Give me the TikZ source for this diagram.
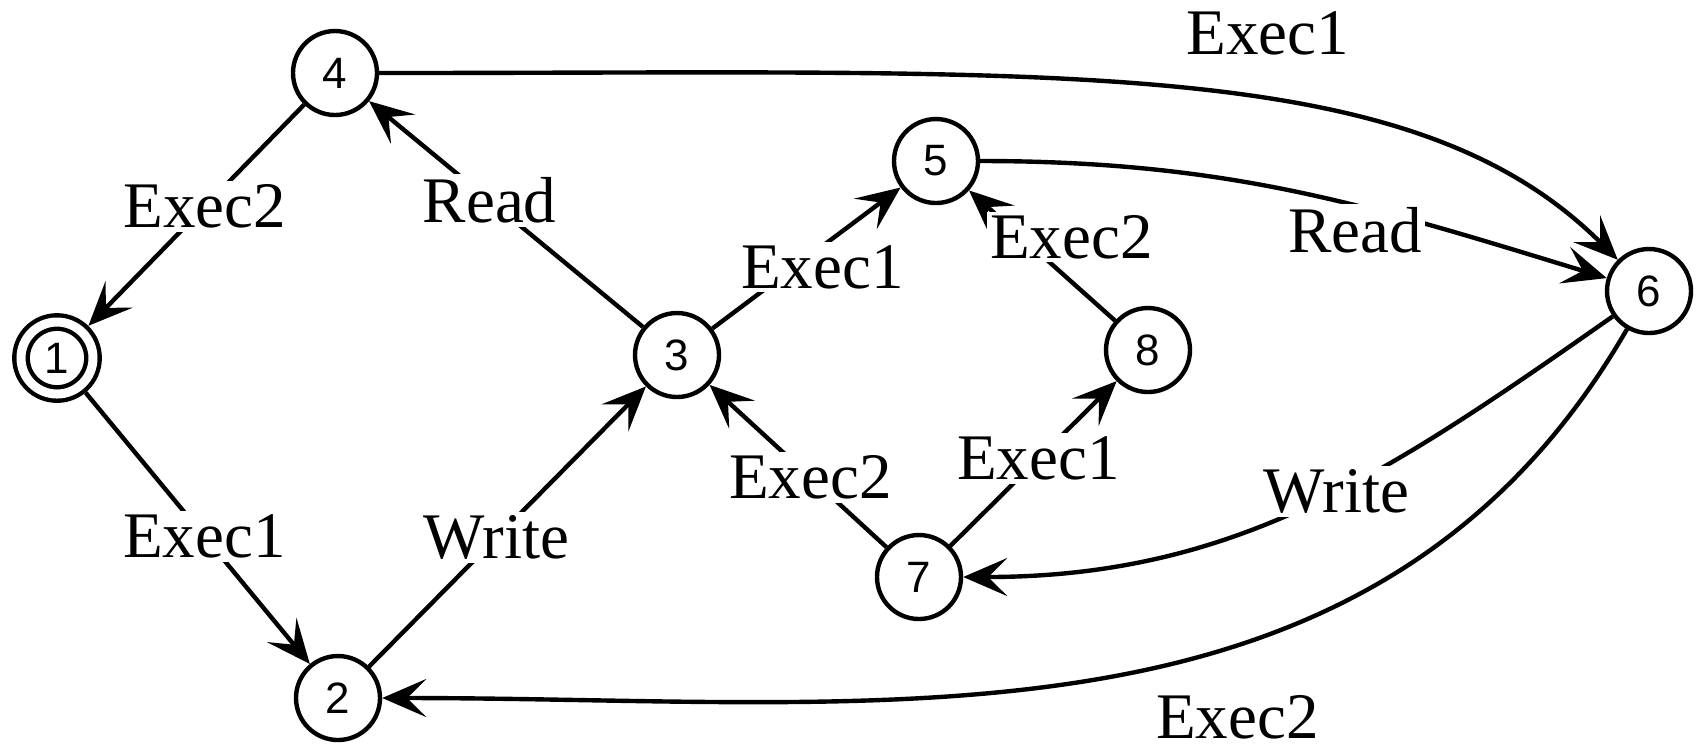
\documentclass[tikz,border=0pt]{standalone}
\usepackage{fontspec}
\setmainfont{Liberation Serif}
\setsansfont{Liberation Sans}
\usetikzlibrary{arrows.meta}

\begin{document}
\begin{tikzpicture}[
        state/.style={circle, draw=black, line width=1.25pt, fill=white, font=\sffamily\fontsize{12.5}{12.5}\selectfont, minimum size=0.84cm, inner sep=0pt},
        accept/.style={state, double, double distance=0.09cm, minimum size=0.72cm, outer sep=0.09cm},
        trans/.style={-{Stealth[length=0.44cm, width=0.38cm, inset=0.19cm]}, line width=1.25pt},
        lbl/.style={fill=white, inner sep=1pt, font=\fontsize{18.5}{20}\selectfont}
    ]
        \useasboundingbox (0,0) rectangle (17.03,-7.52);

        % States
        \node[accept] (s1) at (0.57, -3.58) {1};
        \node[state] (s2) at (3.38, -6.98) {2};
        \node[state] (s3) at (6.77, -3.55) {3};
        \node[state] (s4) at (3.35, -0.73) {4};
        \node[state] (s5) at (9.36, -1.61) {5};
        \node[state] (s6) at (16.49, -2.91) {6};
        \node[state] (s7) at (9.19, -5.77) {7};
        \node[state] (s8) at (11.48, -3.50) {8};

        % Straight transitions
        \draw[trans] (s4) -- node[lbl, pos=0.46] {Exec2} (s1);
        \draw[trans] (s1) -- node[lbl, pos=0.53] {Exec1} (s2);
        \draw[trans] (s2) -- node[lbl, pos=0.46] {Write} (s3);
        \draw[trans] (s3) -- node[lbl, pos=0.56] {Read} (s4);
        \draw[trans] (s3) -- node[lbl, pos=0.52, shift={(0.12,-0.12)}] {Exec1} (s5);
        \draw[trans] (s7) -- node[lbl, pos=0.43] {Exec2} (s3);
        \draw[trans] (s7) -- node[lbl, pos=0.53] {Exec1} (s8);
        \draw[trans] (s8) -- node[lbl, pos=0.45, shift={(0.22,0.25)}] {Exec2} (s5);

        % Curved transitions to and from 6
        \draw[trans] (s4) to[out=0, in=135, out looseness=1.4, in looseness=0.6]
            node[lbl, pos=0.58, yshift=0.67cm] {Exec1} (s6);
        \draw[trans] (s5) to[out=0, in=163]
            node[lbl, pos=0.6, yshift=-7pt] {Read} (s6);
        \draw[trans] (s6) to[out=215, in=0]
            node[lbl, pos=0.45] {Write} (s7);
        \draw[trans] (s6) to[out=240, in=0]
            node[lbl, pos=0.39, yshift=-0.72cm] {Exec2} (s2);
    \end{tikzpicture}
\end{document}
